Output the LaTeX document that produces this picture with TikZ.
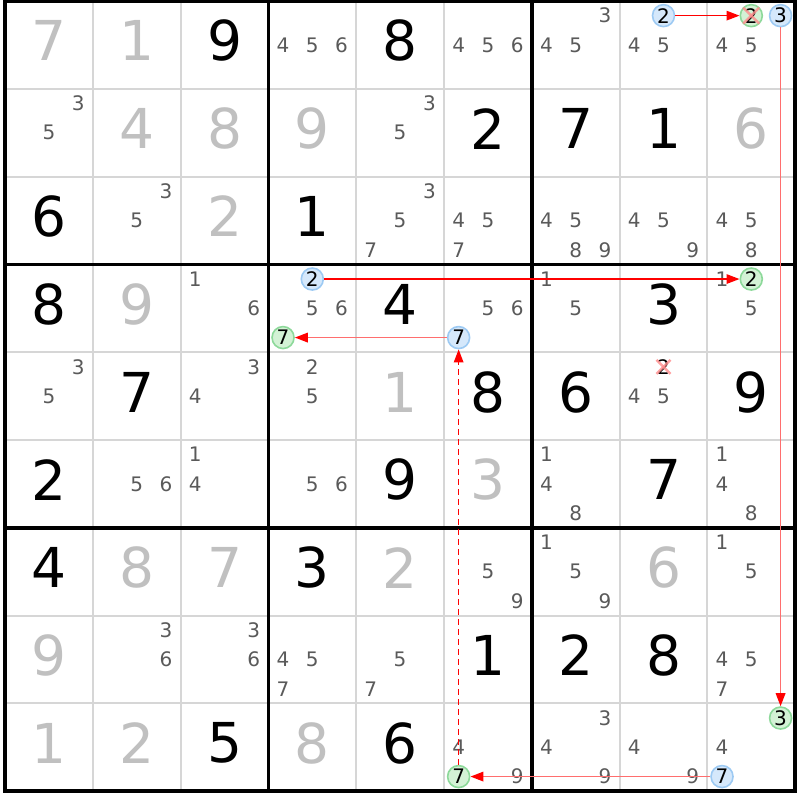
\documentclass[tikz,border=0pt]{standalone}
\usepackage{fontspec}
\setmainfont{DejaVu Sans}
\usetikzlibrary{arrows.meta}
\definecolor{givengray}{HTML}{C0C0C0}
\definecolor{candgray}{HTML}{5A5A5A}
\definecolor{gridgray}{HTML}{D6D6D6}
\definecolor{bluefill}{HTML}{D5E8FB}
\definecolor{blueline}{HTML}{9DCAF3}
\definecolor{greenfill}{HTML}{D3F2D5}
\definecolor{greenline}{HTML}{8DD99A}
\definecolor{lightred}{HTML}{FF6E6E}
\definecolor{xpink}{HTML}{FF8C8C}
\newcommand{\gx}{5}
\newcommand{\gy}{1}
\newcommand{\cs}{87.8}
\newcommand{\cpos}[3]{%
  \pgfmathsetmacro\px{\gx+(#2-1)*\cs+(2*mod(#3-1,3)+1)*\cs/6}%
  \pgfmathsetmacro\py{\gy+(#1-1)*\cs+(2*floor((#3-1)/3)+1)*\cs/6}}
\begin{document}
\begin{tikzpicture}[x=1pt,y=-1pt,
  big/.style={font=\fontsize{55}{60}\selectfont, inner sep=0pt},
  givenfix/.style={big, text=givengray},
  solved/.style={big, text=black},
  cand/.style={font=\fontsize{20}{22}\selectfont, text=candgray, inner sep=0pt},
  bluec/.style={circle, draw=blueline, fill=bluefill, line width=1.6pt, minimum size=22pt, inner sep=0pt, font=\fontsize{20}{22}\selectfont, text=black},
  greenc/.style={circle, draw=greenline, fill=greenfill, line width=1.6pt, minimum size=22pt, inner sep=0pt, font=\fontsize{20}{22}\selectfont, text=black},
  link/.style={red, line width=1.5pt, -{Triangle[length=13pt,width=9.5pt]}},
  weaklink/.style={lightred, line width=1.8pt, -{Triangle[length=13pt,width=9.5pt,color=red]}},
  dashlink/.style={red, line width=1.5pt, dash pattern=on 6pt off 4pt, -{Triangle[length=13pt,width=9.5pt]}},
  xmark/.style={xpink, line width=2.5pt, opacity=0.8}
]
\useasboundingbox[fill=white] (0,0) rectangle (800,800);
% grid
\foreach \i in {1,2,4,5,7,8} {
  \draw[gridgray, line width=2pt] ({\gx+\i*\cs},\gy) -- ({\gx+\i*\cs},{\gy+9*\cs});
  \draw[gridgray, line width=2pt] (\gx,{\gy+\i*\cs}) -- ({\gx+9*\cs},{\gy+\i*\cs});
}
\foreach \i in {0,3,6,9} {
  \draw[black, line width=3.5pt] ({\gx+\i*\cs},{\gy-1.75}) -- ({\gx+\i*\cs},{\gy+9*\cs+1.75});
  \draw[black, line width=3.5pt] ({\gx-1.75},{\gy+\i*\cs}) -- ({\gx+9*\cs+1.75},{\gy+\i*\cs});
}
% given digits (gray)
\foreach \r/\c/\d in {1/1/7,1/2/1,2/2/4,2/3/8,2/4/9,2/9/6,3/3/2,4/2/9,5/5/1,6/6/3,7/2/8,7/3/7,7/5/2,7/8/6,8/1/9,9/1/1,9/2/2,9/4/8}
  \node[givenfix] (g\r\c) at ({\gx+(\c-0.5)*\cs},{\gy+(\r-0.5)*\cs-4}) {\d};
% solved digits (black)
\foreach \r/\c/\d in {1/3/9,1/5/8,2/6/2,2/7/7,2/8/1,3/1/6,3/4/1,4/1/8,4/5/4,4/8/3,5/2/7,5/6/8,5/7/6,5/9/9,6/1/2,6/5/9,6/8/7,7/1/4,7/4/3,8/6/1,8/7/2,8/8/8,9/3/5,9/5/6}
  \node[solved] (s\r\c) at ({\gx+(\c-0.5)*\cs},{\gy+(\r-0.5)*\cs-4}) {\d};
% candidates
\foreach \r/\c/\d in {1/4/4,1/4/5,1/4/6,1/6/4,1/6/5,1/6/6,1/7/3,1/7/4,1/7/5,1/8/4,1/8/5,1/9/4,1/9/5,
  2/1/3,2/1/5,2/5/3,2/5/5,
  3/2/3,3/2/5,3/5/3,3/5/5,3/5/7,3/6/4,3/6/5,3/6/7,3/7/4,3/7/5,3/7/8,3/7/9,3/8/4,3/8/5,3/8/9,3/9/4,3/9/5,3/9/8,
  4/3/1,4/3/6,4/4/5,4/4/6,4/6/5,4/6/6,4/7/1,4/7/5,4/9/1,4/9/5,
  5/1/3,5/1/5,5/3/3,5/3/4,5/4/2,5/4/5,5/8/4,5/8/5,
  6/2/5,6/2/6,6/3/1,6/3/4,6/4/5,6/4/6,6/7/1,6/7/4,6/7/8,6/9/1,6/9/4,6/9/8,
  7/6/5,7/6/9,7/7/1,7/7/5,7/7/9,7/9/1,7/9/5,
  8/2/3,8/2/6,8/3/3,8/3/6,8/4/4,8/4/5,8/4/7,8/5/5,8/5/7,8/9/4,8/9/5,8/9/7,
  9/6/4,9/6/9,9/7/3,9/7/4,9/7/9,9/8/4,9/8/9,9/9/4} {
  \cpos{\r}{\c}{\d}
  \node[cand] (k\r\c\d) at (\px,\py) {\d};
}
% eliminated candidate without circle
\cpos{5}{8}{2}
\node[cand, text=black] (x582) at (\px,\py) {2};
\draw[xmark] ([shift={(-7,-7)}]x582.center) -- ([shift={(7,7)}]x582.center);
\draw[xmark] ([shift={(-7,7)}]x582.center) -- ([shift={(7,-7)}]x582.center);
% circled candidates
\cpos{1}{8}{2} \node[bluec] (b182) at (\px,\py) {2};
\cpos{1}{9}{2} \node[greenc] (e192) at (\px,\py) {2};
\cpos{1}{9}{3} \node[bluec] (b193) at (\px,\py) {3};
\cpos{4}{4}{2} \node[bluec] (b442) at (\px,\py) {2};
\cpos{4}{4}{7} \node[greenc] (e447) at (\px,\py) {7};
\cpos{4}{6}{7} \node[bluec] (b467) at (\px,\py) {7};
\cpos{4}{9}{2} \node[greenc] (e492) at (\px,\py) {2};
\cpos{9}{6}{7} \node[greenc] (e967) at (\px,\py) {7};
\cpos{9}{9}{3} \node[greenc] (e993) at (\px,\py) {3};
\cpos{9}{9}{7} \node[bluec] (b997) at (\px,\py) {7};
\draw[xmark] ([shift={(-8,-8)}]e192.center) -- ([shift={(8,8)}]e192.center);
\draw[xmark] ([shift={(-8,8)}]e192.center) -- ([shift={(8,-8)}]e192.center);
% links
\draw[link] (b182) -- (e192);
\draw[link] (b442) -- (e492);
\draw[weaklink] (b467) -- (e447);
\draw[dashlink] (e967) -- (b467);
\draw[weaklink] (b997) -- (e967);
\draw[weaklink] (b193) -- (e993);
\end{tikzpicture}
\end{document}
